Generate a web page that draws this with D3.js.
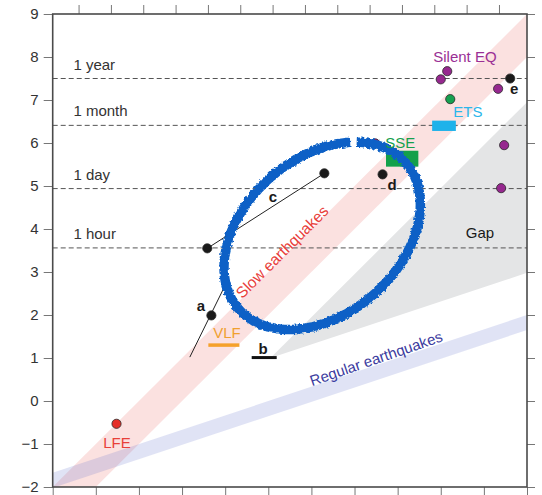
<!DOCTYPE html>
<html>
<head>
<meta charset="utf-8">
<script src="https://cdn.jsdelivr.net/npm/d3@7"></script>
<style>
    body { margin: 0; background: #fff; }
    svg text { font-family: "Liberation Sans", Arial, Helvetica, sans-serif; }
</style>
</head>
<body>
<div id="chart"></div>
<script>

// x: log10 seismic moment (N m), y: log10 duration (s)
const xDomain = [10, 21];
const yDomain = [-2, 9];
const xTicks = [10, 11, 12, 13, 14, 15, 16, 17, 18, 19, 20, 21];
const yTicks = [-2, -1, 0, 1, 2, 3, 4, 5, 6, 7, 8, 9];
const mwTicks = [1, 1.5, 2, 2.5, 3, 3.5, 4, 4.5, 5, 5.5, 6, 6.5, 7, 7.5];

// reference durations
const timeNames = ["1 year", "1 month", "1 day", "1 hour"];
const timeValues = [7.50, 6.41, 4.94, 3.56];

// scaling bands (data space polygons)
const slowBand = [[10, -2], [21, 9], [21, 8], [11, -2]];
const regularBand = [[10, -1.67], [21, 2.0], [21, 1.65], [10, -2.02]];
const gapWedge = [[15.05, 1.0], [21, 6.95], [21, 2.98]];

// observations
const silentEQ = [[19.0, 7.48], [19.15, 7.67], [20.33, 7.26], [20.47, 5.95], [20.40, 4.95], [17.48, 5.99]];
const etsDots = [[19.22, 7.02]];
const lfeDots = [[11.48, -0.53]];
const blackDots = [[13.68, 1.99], [13.585, 3.55], [16.30, 5.295], [17.65, 5.27], [20.61, 7.50]];
const lineA = [[13.18, 1.02], [13.97, 2.63]];
const lineC = [[13.585, 3.55], [16.30, 5.295]];
const vlfBar = {x0: 13.61, x1: 14.33, y: 1.30};
const bBar = {x0: 14.615, x1: 15.195, y: 1.01};
const sseBox = {x0: 17.73, x1: 18.48, y0: 5.45, y1: 5.82};
const etsBox = {x0: 18.80, x1: 19.35, y0: 6.28, y1: 6.52};

const labelNames = ["LFE", "VLF", "a", "b", "c", "d", "e", "SSE", "ETS", "Silent EQ", "Gap"];
const labelX = [11.49, 14.04, 13.44, 14.88, 15.11, 17.87, 20.70, 18.06, 19.63, 19.56, 19.91];
const labelY = [-1.09, 1.465, 2.09, 1.09, 4.63, 4.91, 7.14, 5.88, 6.60, 7.88, 3.79];
const labelColors = ["#e8403a", "#f0a030", "#1a1a1a", "#1a1a1a", "#1a1a1a", "#1a1a1a", "#1a1a1a",
    "#15a04e", "#2bb6ea", "#9a2f95", "#1a1a1a"];
const labelBold = [false, false, true, true, true, true, true, false, false, false, false];

// hand drawn loop around the slow earthquake gap
const loopCenter = [16.25, 3.84];


class ScalingChart {

    constructor(parentElement) {
        this.parentElement = parentElement;
        this.initVis();
    }

    initVis() {
        let vis = this;

        vis.margin = {top: 14, right: 15, bottom: 8, left: 52.7};
        vis.width = 527 - vis.margin.left;
        vis.height = 487 - vis.margin.top;

        let root = d3.select("#" + vis.parentElement).append("svg")
            .attr("width", 542)
            .attr("height", 495);

        let defs = root.append("defs");
        defs.append("clipPath").attr("id", "plotClip")
            .append("rect").attr("width", vis.width).attr("height", vis.height);

        let f = defs.append("filter").attr("id", "rough")
            .attr("x", "-20%").attr("y", "-20%").attr("width", "140%").attr("height", "140%");
        f.append("feTurbulence").attr("type", "fractalNoise").attr("baseFrequency", 0.35)
            .attr("numOctaves", 2).attr("seed", 5).attr("result", "noise");
        f.append("feDisplacementMap").attr("in", "SourceGraphic").attr("in2", "noise")
            .attr("scale", 4).attr("xChannelSelector", "R").attr("yChannelSelector", "G");

        vis.svg = root.append("g")
            .attr("transform", `translate(${vis.margin.left}, ${vis.margin.top})`);

        vis.x = d3.scaleLinear().domain(xDomain).range([0, vis.width]);
        vis.y = d3.scaleLinear().domain(yDomain).range([vis.height, 0]);
        // moment magnitude on the top axis
        vis.xMw = d3.scaleLinear()
            .domain(xDomain.map(d => (d - 9.1) / 1.5))
            .range([0, vis.width]);

        vis.updateVis();
    }

    updateVis() {
        let vis = this;
        let x = vis.x, y = vis.y;

        let poly = d3.line().x(d => x(d[0])).y(d => y(d[1]));
        let plot = vis.svg.append("g").attr("clip-path", "url(#plotClip)");

        // bands
        plot.append("path").attr("d", poly(gapWedge) + "Z").attr("fill", "#e4e5e6");
        plot.append("path").attr("d", poly(slowBand) + "Z").attr("fill", "#ec6a62").attr("opacity", 0.2);
        plot.append("path").attr("d", poly(regularBand) + "Z").attr("fill", "#5a6ccc").attr("opacity", 0.19);

        // duration reference lines
        plot.selectAll(".tline").data(timeValues).enter().append("line")
            .attr("x1", x(xDomain[0])).attr("x2", x(xDomain[1]))
            .attr("y1", d => y(d)).attr("y2", d => y(d))
            .attr("stroke", "#555").attr("stroke-width", 1)
            .attr("stroke-dasharray", "5,3");

        vis.svg.selectAll(".tlabel").data(timeNames).enter().append("text")
            .attr("x", x(10.48))
            .attr("y", (d, i) => y(timeValues[i]) - 9)
            .attr("font-size", 15).attr("fill", "#333")
            .text(d => d);

        // band labels
        let slowMid = [15.32, 3.47];
        vis.svg.append("text")
            .attr("transform", `translate(${x(slowMid[0])}, ${y(slowMid[1])}) rotate(-45)`)
            .attr("text-anchor", "middle").attr("dy", "0.35em")
            .attr("font-size", 15.5).attr("fill", "#e8403a")
            .text("Slow earthquakes");

        let regX = 17.54;
        vis.svg.append("text")
            .attr("transform", `translate(${x(regX)}, ${y(regX / 3 - 5) - 1}) rotate(-19)`)
            .attr("text-anchor", "middle")
            .attr("font-size", 15).attr("fill", "#3c3ca0")
            .text("Regular earthquakes");

        // tracks
        [lineA, lineC].forEach(l => {
            vis.svg.append("path").attr("d", poly(l))
                .attr("fill", "none").attr("stroke", "#222").attr("stroke-width", 1);
        });

        // bars
        vis.svg.append("line")
            .attr("x1", x(vlfBar.x0)).attr("x2", x(vlfBar.x1))
            .attr("y1", y(vlfBar.y)).attr("y2", y(vlfBar.y))
            .attr("stroke", "#f5a12b").attr("stroke-width", 3.5);
        vis.svg.append("line")
            .attr("x1", x(bBar.x0)).attr("x2", x(bBar.x1))
            .attr("y1", y(bBar.y)).attr("y2", y(bBar.y))
            .attr("stroke", "#111").attr("stroke-width", 3);

        // boxes
        [[sseBox, "#13a04a"], [etsBox, "#1fb2ea"]].forEach(([b, c]) => {
            vis.svg.append("rect")
                .attr("x", x(b.x0)).attr("y", y(b.y1))
                .attr("width", x(b.x1) - x(b.x0)).attr("height", y(b.y0) - y(b.y1))
                .attr("fill", c);
        });

        // dots
        let dotSets = [[silentEQ, "#96288f"], [etsDots, "#16a050"], [lfeDots, "#e52d27"], [blackDots, "#1a1a1a"]];
        dotSets.forEach(([pts, c]) => {
            vis.svg.append("g").selectAll("circle").data(pts).enter().append("circle")
                .attr("cx", d => x(d[0])).attr("cy", d => y(d[1]))
                .attr("r", 4.6)
                .attr("fill", c).attr("stroke", "#2a2a2a").attr("stroke-width", 0.8);
        });

        // loop
        let ts = d3.range(-38, 319, 2).map(deg => deg * Math.PI / 180);
        let loop = d3.line().curve(d3.curveCardinal)
            .x(t => 111 * Math.cos(t)).y(t => 78 * Math.sin(t));
        vis.svg.append("g")
            .attr("filter", "url(#rough)")
            .append("path")
            .attr("transform", `translate(${x(loopCenter[0])}, ${y(loopCenter[1])}) rotate(-41)`)
            .attr("d", loop(ts))
            .attr("fill", "none").attr("stroke", "#0b61c6").attr("stroke-width", 9.5);

        // point labels
        vis.svg.selectAll(".plabel").data(labelNames).enter().append("text")
            .attr("x", (d, i) => x(labelX[i])).attr("y", (d, i) => y(labelY[i]))
            .attr("text-anchor", "middle")
            .attr("font-size", 15)
            .attr("font-weight", (d, i) => labelBold[i] ? "bold" : "normal")
            .attr("fill", (d, i) => labelColors[i])
            .text(d => d);

        // axes
        let left = vis.svg.append("g")
            .call(d3.axisLeft(y).tickValues(yTicks).tickSize(9).tickSizeOuter(0).tickPadding(5));
        left.selectAll("text").attr("font-size", 15).attr("fill", "#333")
            .attr("font-family", "Liberation Sans, Arial, sans-serif");

        let right = vis.svg.append("g").attr("transform", `translate(${vis.width},0)`)
            .call(d3.axisRight(y).tickValues(yTicks).tickSize(8).tickSizeOuter(0).tickFormat(""));
        let bottom = vis.svg.append("g").attr("transform", `translate(0,${vis.height})`)
            .call(d3.axisBottom(x).tickValues(xTicks).tickSize(9).tickSizeOuter(0).tickFormat(""));
        let top = vis.svg.append("g")
            .call(d3.axisTop(vis.xMw).tickValues(mwTicks).tickSize(9).tickSizeOuter(0).tickFormat(""));

        [left, right, bottom, top].forEach(g => {
            g.select(".domain").remove();
            g.selectAll(".tick line").attr("stroke", "#777");
        });

        vis.svg.append("rect")
            .attr("width", vis.width).attr("height", vis.height)
            .attr("fill", "none").attr("stroke", "#4a4a4a").attr("stroke-width", 1.6);
    }
}

new ScalingChart("chart");

</script>
</body>
</html>
